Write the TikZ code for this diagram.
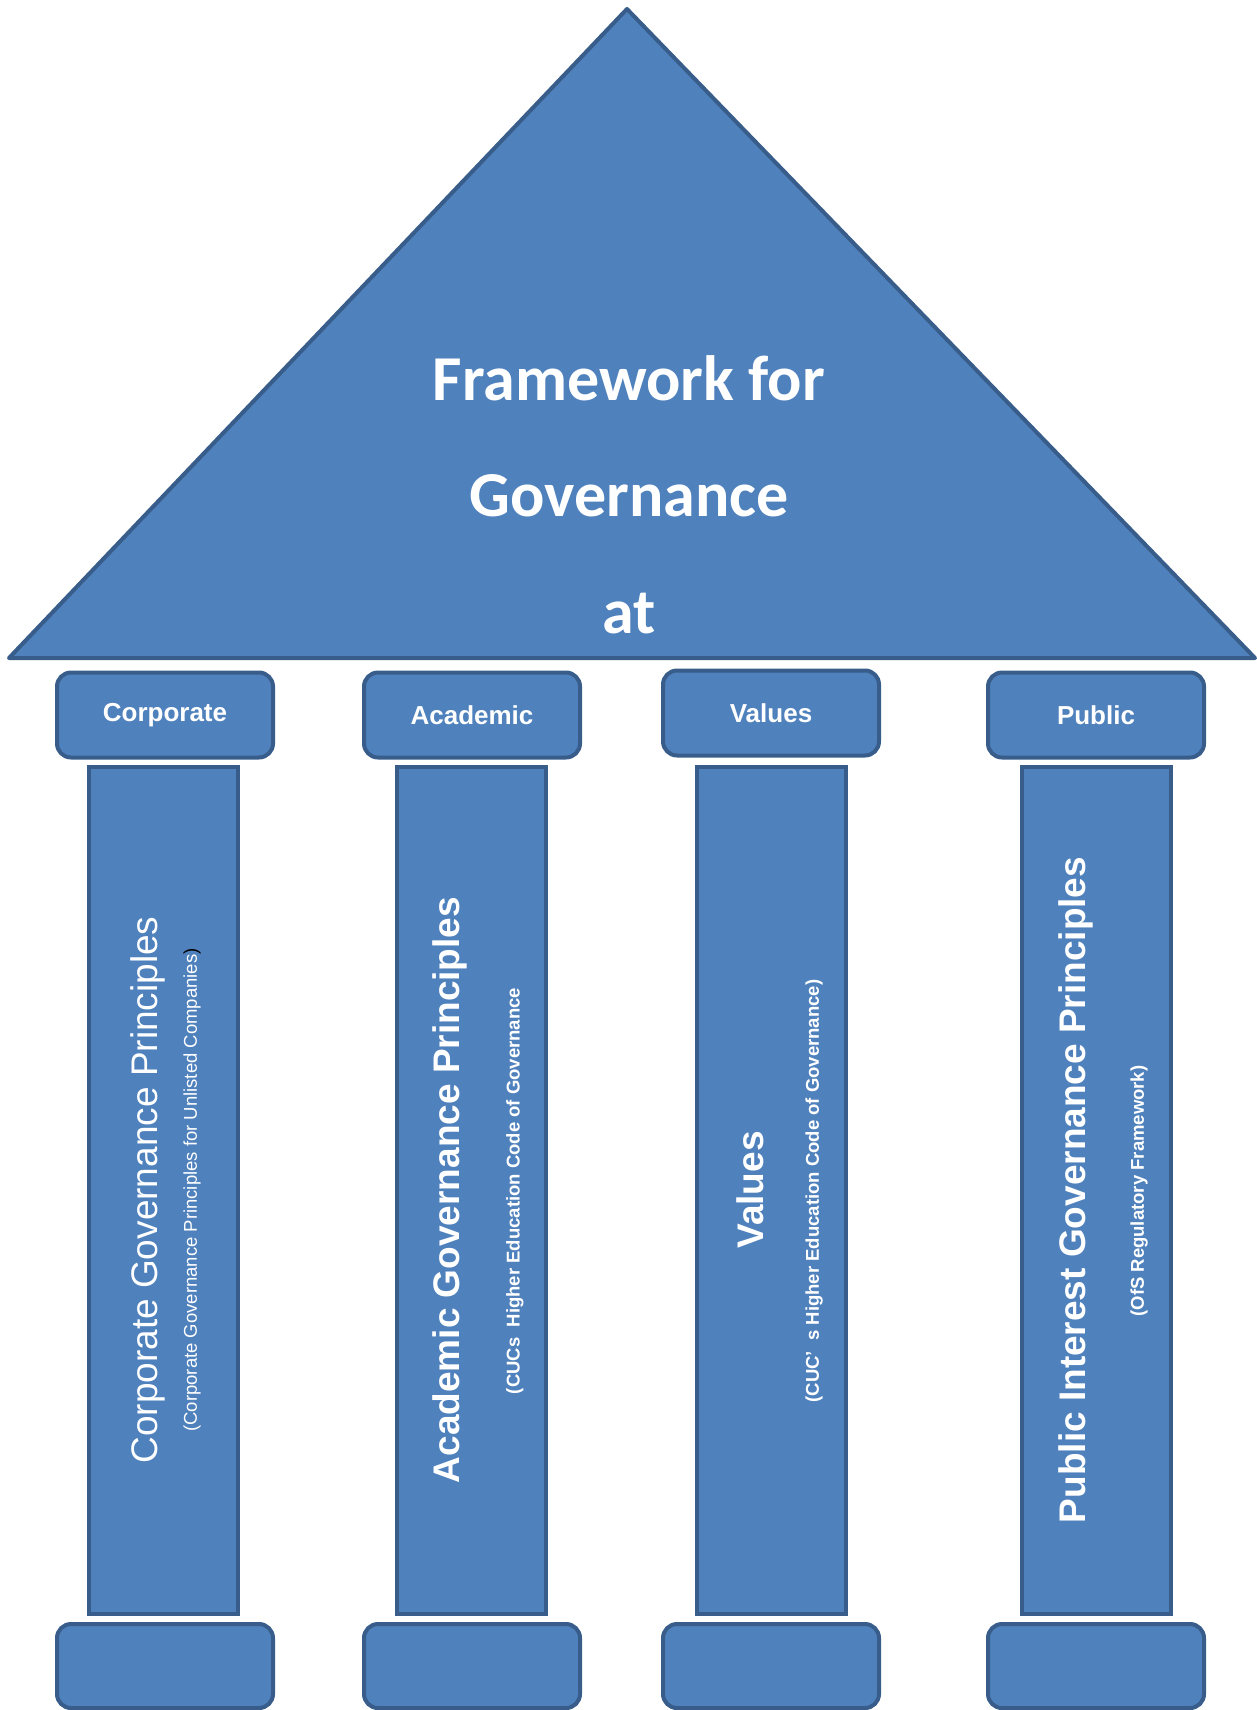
\documentclass[tikz,border=0pt]{standalone}
\usepackage{fontspec}
\setmainfont{Liberation Sans}
\newfontfamily\carlito{Carlito}
\definecolor{fillblue}{HTML}{4F81BD}
\definecolor{edgeblue}{HTML}{385D8A}
\begin{document}
\begin{tikzpicture}[x=1pt,y=-1pt,
  part/.style={draw=edgeblue, fill=fillblue, line width=4pt},
  capbox/.style={part, rounded corners=14pt, minimum width=216pt, minimum height=85pt, inner sep=0pt, text=white, font=\bfseries\fontsize{26}{30}\selectfont},
  shaft/.style={part, minimum width=149pt, minimum height=847pt, inner sep=0pt},
  basebox/.style={part, rounded corners=14pt, minimum width=216pt, minimum height=84pt, inner sep=0pt},
  maintext/.style={rotate=90, text=white, inner sep=0pt, font=\fontsize{37}{40}\selectfont},
  mainbold/.style={maintext, font=\bfseries\fontsize{37}{40}\selectfont},
  subtext/.style={rotate=90, text=white, inner sep=0pt, font=\fontsize{18.5}{22}\selectfont},
  subbold/.style={subtext, font=\bfseries\fontsize{18.5}{22}\selectfont},
  rooftext/.style={text=white, inner sep=0pt, font=\carlito\bfseries\fontsize{64}{70}\selectfont}
]
\useasboundingbox (0,0) rectangle (1257,1710);
% roof
\coordinate (apex) at (627,9);
\coordinate (bl) at (9,658);
\coordinate (br) at (1255,658);
\draw[part, line join=round] (apex) -- (br) -- (bl) -- cycle;
\node[rooftext] (t1) at (629,378) {Framework for};
\node[rooftext] (t2) at (629,496) {Governance};
\node[rooftext] (t3) at (629,614) {at};
% caps
\node[capbox] (capA) at (165,715) {Corporate};
\node[capbox] (capB) at (472,715) {Academic};
\node[capbox] (capC) at (771,713) {Values};
\node[capbox] (capD) at (1096,715) {Public};
% shafts
\node[shaft] (shA) at (163.5,1190) {};
\node[shaft] (shB) at (471,1190) {};
\node[shaft] (shC) at (771,1190) {};
\node[shaft] (shD) at (1096,1190) {};
% bases
\node[basebox] (bsA) at (165,1666) {};
\node[basebox] (bsB) at (472,1666) {};
\node[basebox] (bsC) at (771,1666) {};
\node[basebox] (bsD) at (1096,1666) {};
% shaft texts
\node[maintext] (mA) at (148,1190) {Corporate Governance Principles};
\node[subtext] (sA) at (192,1190) {(Corporate Governance Principles for Unlisted Companies\textcolor{black}{)}};
\node[mainbold] (mB) at (450,1190) {Academic Governance Principles};
\node[subbold] (sB) at (515,1191) {(CUCs~~Higher Education Code of Governance};
\node[mainbold] (mC) at (750,1190) {Values};
\node[subbold] (sC) at (814,1191) {(CUC’~~s Higher Education Code of Governance)};
\node[mainbold] (mD) at (1076,1190) {Public Interest Governance Principles};
\node[subbold] (sD) at (1139,1191) {(OfS Regulatory Framework)};
\end{tikzpicture}
\end{document}
